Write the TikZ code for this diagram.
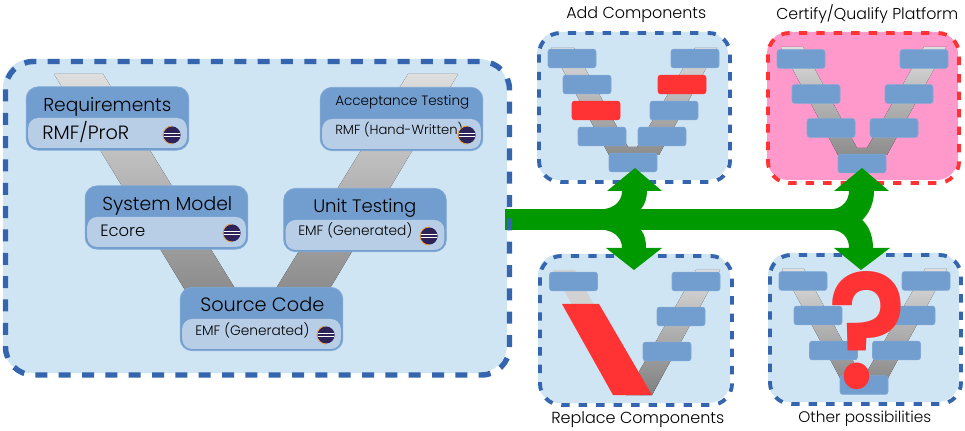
\documentclass[tikz,border=0pt]{standalone}
\usepackage{fontspec}
\usepackage{graphicx}
\setmainfont{Poppins Light}
\newfontfamily\qfont{Poppins SemiBold}
\definecolor{panelfill}{HTML}{CFE5F4}
\definecolor{paneldash}{HTML}{3465AE}
\definecolor{boxblue}{HTML}{729ECF}
\definecolor{innerblue}{HTML}{B8CEE7}
\definecolor{alertred}{HTML}{FF3333}
\definecolor{pinkfill}{HTML}{FF99CC}
\definecolor{arrowgreen}{HTML}{009900}
\definecolor{eclipsedark}{HTML}{2E2358}
\definecolor{eclipseorange}{HTML}{F79420}
\tikzset{
  px/.style={x=0.75pt,y=-0.75pt},
  bigdash/.style={draw=paneldash,line width=4.1pt,dash pattern=on 9pt off 8.5pt,rounded corners=21pt},
  smalldash/.style={draw=paneldash,line width=2.9pt,dash pattern=on 6.3pt off 6.8pt,rounded corners=16pt},
  vbox/.style={rectangle,fill=boxblue,draw=boxblue!90!white,line width=0.4pt,rounded corners=2pt,minimum width=36pt,minimum height=14.2pt,inner sep=0pt},
  redbox/.style={vbox,fill=alertred,draw=alertred},
  outerbox/.style={rectangle,fill=boxblue,draw=boxblue!90!white,line width=0.6pt,rounded corners=9pt,minimum width=122pt,minimum height=47.5pt,inner sep=0pt},
  innerbox/.style={rectangle,fill=innerblue,rounded corners=7.5pt,minimum width=119pt,minimum height=22.5pt,inner sep=0pt},
  lbl/.style={anchor=base west,inner sep=0pt,text=black},
  arrowfill/.style={fill=arrowgreen}
}
\newcommand\fitw[2]{\resizebox{\dimexpr #1pt*3/4\relax}{!}{#2}}
\newcommand\eclipseicon[2]{%
  \fill[eclipsedark] (#1,#2) circle (8.6);
  \draw[white,line width=0.7pt] (#1-8,#2-1.8) -- (#1+8,#2-1.8) (#1-8,#2+1.6) -- (#1+8,#2+1.6);
  \draw[eclipseorange,line width=0.6pt,dash pattern=on 2pt off 0.5pt] (#1,#2+9) arc (90:270:9);
}
\begin{document}
\begin{tikzpicture}[px]
\useasboundingbox (0,0) rectangle (965,431);
% main panel
\fill[panelfill,rounded corners=21pt] (3,59) rectangle (507,373);
\fill[top color=black!13,bottom color=black!45]
  (54,74) -- (103,74) -- (236,290) -- (185,290) -- cycle;
\fill[top color=black!13,bottom color=black!45]
  (408,74) -- (458,74) -- (329,290) -- (275,290) -- cycle;
% green
\fill[arrowgreen] (505,209) rectangle (840,230);
\draw[bigdash] (5.5,61.5) rectangle (509.5,375);
% upper-left panel
\fill[panelfill,rounded corners=16pt] (537,32) rectangle (728,180);
\fill[top color=black!13,bottom color=black!45]
  (551,48) -- (574,48) -- (628,147) -- (637,147) -- (695,48) -- (717,48) -- (659,155) -- (609,155) -- cycle;
\draw[smalldash] (539,33) rectangle (730,182);
\node[vbox] (a1) at (572,58.5) {};
\node[vbox] (a2) at (587,84.5) {};
\node[redbox] (a3) at (596,110.5) {};
\node[vbox] (a4) at (602,136.5) {};
\node[vbox] (a5) at (633,162.5) {};
\node[vbox] (a6) at (695,58.5) {};
\node[redbox] (a7) at (682,84.5) {};
\node[vbox] (a8) at (674,110.5) {};
\node[vbox] (a9) at (662,136.5) {};
% upper-right panel
\fill[pinkfill,rounded corners=16pt] (767,32) rectangle (958,180);
\fill[top color=black!13,bottom color=black!45]
  (781,47) -- (803,47) -- (857,148) -- (867,148) -- (924,47) -- (946,47) -- (887,155) -- (838,155) -- cycle;
\draw[smalldash,draw=alertred] (768,33) rectangle (959,183);
\node[vbox] (b1) at (801,59) {};
\node[vbox] (b2) at (816,94) {};
\node[vbox] (b3) at (831,128) {};
\node[vbox] (b4) at (862,163.5) {};
\node[vbox] (b5) at (924,59) {};
\node[vbox] (b6) at (909,94) {};
\node[vbox] (b7) at (894,128) {};
% lower-left panel
\fill[panelfill,rounded corners=16pt] (538,254) rectangle (730,403);
\fill[black!18]
  (553,270) -- (575,270) -- (594,305) -- (572,305) -- cycle;
\fill[top color=black!13,bottom color=black!50]
  (696,270) -- (720,270) -- (652,395) -- (626,395) -- cycle;
\draw[smalldash] (540,256) rectangle (732,405);
\fill[alertred] (562,304) -- (599,304) -- (652,395) -- (613,395) -- cycle;
\node[vbox] (c1) at (573.5,281.5) {};
\node[vbox] (c2) at (696,281.5) {};
\node[vbox] (c3) at (681,316.5) {};
\node[vbox] (c4) at (667,351.5) {};
% lower-right panel
\fill[panelfill,rounded corners=16pt] (768,253) rectangle (959,402);
\fill[top color=black!13,bottom color=black!45]
  (782,269) -- (804,269) -- (858,370) -- (868,370) -- (925,269) -- (947,269) -- (888,378) -- (840,378) -- cycle;
\draw[smalldash] (770,255) rectangle (961,404);
\node[vbox] (d1) at (803,281) {};
\node[vbox] (d2) at (818,315.5) {};
\node[vbox] (d3) at (833.5,350.5) {};
\node[vbox] (d4) at (864,385) {};
\node[vbox] (d5) at (926,281) {};
\node[vbox] (d6) at (911,315.5) {};
\node[vbox] (d7) at (896.5,350.5) {};
% green arrows
\fill[arrowfill] (605,209) .. controls (616,207) and (622,200) .. (622,191) -- (607,191) -- (635,168) -- (662,191) -- (647,191) .. controls (647,198) and (645,204) .. (641,209) -- cycle;
\fill[arrowfill] (605,230) .. controls (616,232) and (622,239) .. (622,248) -- (606,248) -- (634,270) -- (662,248) -- (646,248) .. controls (646,241) and (645,235) .. (641,230) -- cycle;
\fill[arrowfill] (833,209) .. controls (843,208) and (849,200) .. (849,191) -- (834,191) -- (862,168) -- (889,191) -- (874,191) .. controls (874,203) and (869,214) .. (862,220) .. controls (869,226) and (873,236) .. (873,248) -- (890,248) -- (861,270) -- (834,248) -- (849,248) .. controls (849,238) and (843,231) .. (833,230) -- cycle;
% question mark
\node[inner sep=0pt,text=alertred,anchor=base] (qm) at (868,388) {\qfont\resizebox{\dimexpr 80pt*3/4\relax}{\dimexpr 117pt*3/4\relax}{?}};
% large nodes
\node[outerbox] (req) at (107.5,118.5) {};
\node[innerbox] (reqi) at (107.5,133) {};
\node[outerbox] (sys) at (166.5,217.5) {};
\node[innerbox] (sysi) at (166.5,232) {};
\node[outerbox] (acc) at (401.5,119) {};
\node[innerbox] (acci) at (401.5,134) {};
\node[outerbox] (uni) at (365,220) {};
\node[innerbox] (unii) at (365,235) {};
\node[outerbox] (src) at (261.5,319) {};
\node[innerbox] (srci) at (261.5,334) {};
\node[lbl] (t1) at (43,112) {\fitw{128}{Requirements}};
\node[lbl] (t2) at (42,140) {\fitw{87}{RMF/ProR}};
\node[lbl] (t3) at (102,211) {\fitw{130}{System Model}};
\node[lbl] (t4) at (100,237) {\fitw{45}{Ecore}};
\node[lbl] (t5) at (335,106) {\fitw{134}{Acceptance Testing}};
\node[lbl] (t6) at (335,135) {\fitw{128}{RMF (Hand-Written)}};
\node[lbl] (t7) at (313,213) {\fitw{103}{Unit Testing}};
\node[lbl] (t8) at (298,236) {\fitw{114}{EMF (Generated)}};
\node[lbl] (t9) at (200,312) {\fitw{124}{Source Code}};
\node[lbl] (t10) at (195,335) {\fitw{114}{EMF (Generated)}};
\eclipseicon{172}{135}
\eclipseicon{232}{233}
\eclipseicon{467}{135}
\eclipseicon{429}{236}
\eclipseicon{326}{335}
% captions
\node[lbl] (c-add) at (566,19) {\fitw{140}{Add Components}};
\node[lbl] (c-cert) at (776,19.5) {\fitw{182}{Certify/Qualify Platform}};
\node[lbl] (c-rep) at (551,423) {\fitw{173}{Replace Components}};
\node[lbl] (c-oth) at (798,422) {\fitw{133}{Other possibilities}};
\end{tikzpicture}
\end{document}
